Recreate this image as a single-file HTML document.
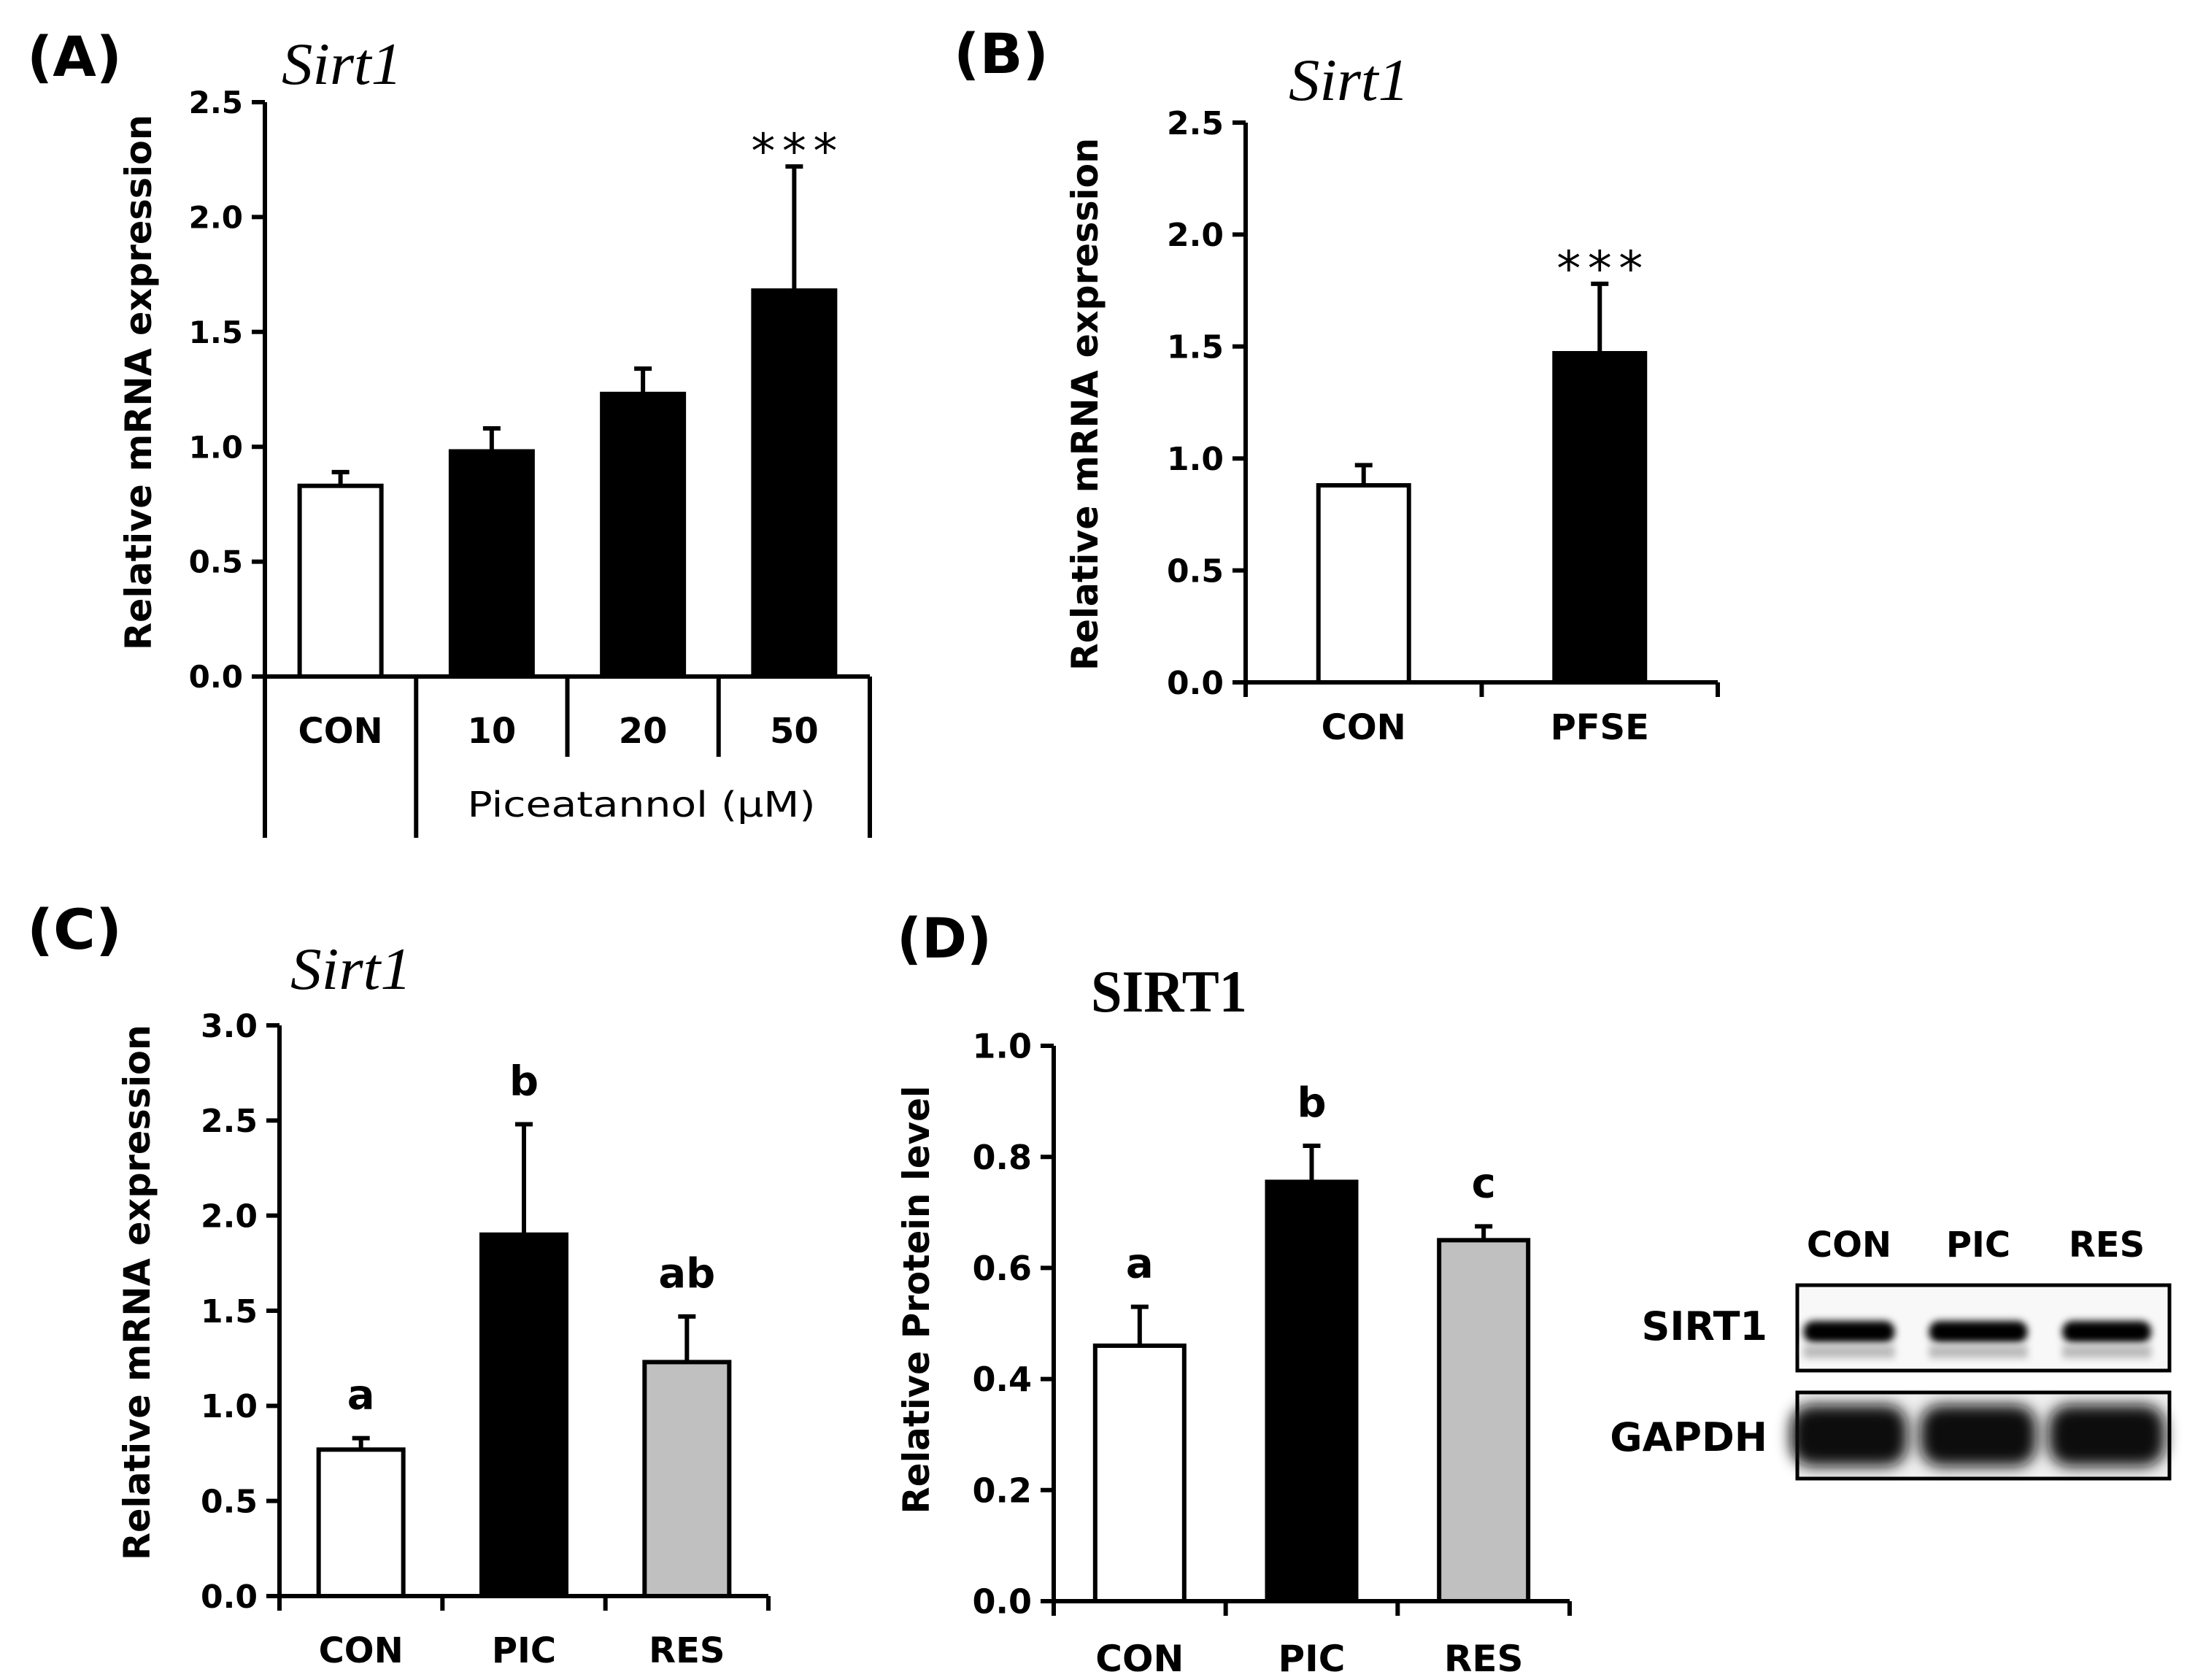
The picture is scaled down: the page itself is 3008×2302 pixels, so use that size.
<!DOCTYPE html>
<html><head><meta charset="utf-8">
<style>
html,body{margin:0;padding:0;background:#fff;}
svg{display:block;}
text{font-family:"DejaVu Sans","Liberation Sans",sans-serif;fill:#000;}
.serif{font-family:"Liberation Serif","DejaVu Serif",serif;}
</style></head>
<body>
<svg id="fig" width="3008" height="2302" viewBox="0 0 3008 2302" xmlns="http://www.w3.org/2000/svg">
<defs>
<filter id="blur1" x="-20%" y="-100%" width="140%" height="300%"><feGaussianBlur stdDeviation="5"/></filter>
<filter id="blur2" x="-20%" y="-50%" width="140%" height="200%"><feGaussianBlur stdDeviation="10"/></filter>
</defs>
</svg>
<script>
// ---- Panel A data ----
const aCategories = ["CON","10","20","50"];
const aValues = [0.83, 0.98, 1.23, 1.68];
const aErrors = [0.89, 1.08, 1.34, 2.22];
const aTicks = ["0.0","0.5","1.0","1.5","2.0","2.5"];
const aColors = ["#fff","#000","#000","#000"];
// ---- Panel B data ----
const bCategories = ["CON","PFSE"];
const bValues = [0.88, 1.47];
const bErrors = [0.97, 1.78];
const bTicks = ["0.0","0.5","1.0","1.5","2.0","2.5"];
const bColors = ["#fff","#000"];
// ---- Panel C data ----
const cCategories = ["CON","PIC","RES"];
const cValues = [0.77, 1.90, 1.23];
const cErrors = [0.83, 2.48, 1.47];
const cTicks = ["0.0","0.5","1.0","1.5","2.0","2.5","3.0"];
const cLetters = ["a","b","ab"];
const cColors = ["#fff","#000","#c0c0c0"];
// ---- Panel D data ----
const dCategories = ["CON","PIC","RES"];
const dValues = [0.46, 0.755, 0.65];
const dErrors = [0.53, 0.82, 0.675];
const dTicks = ["0.0","0.2","0.4","0.6","0.8","1.0"];
const dLetters = ["a","b","c"];
const dColors = ["#fff","#000","#c0c0c0"];

const NS = "http://www.w3.org/2000/svg";
const svg = document.getElementById("fig");
function el(tag, attrs, parent){
  const e = document.createElementNS(NS, tag);
  for (const k in attrs) e.setAttribute(k, attrs[k]);
  (parent||svg).appendChild(e);
  return e;
}
function txt(x,y,s,size,parent,extra,weight){
  const t = el("text",{x:x,y:y,"font-size":size,"text-anchor":"middle"},parent);
  if (extra) for (const k in extra) t.setAttribute(k, extra[k]);
  t.style.fontWeight = weight || "bold";
  t.textContent = s;
  return t;
}

function chart(cfg){
  const g = el("g",{});
  
  
  const ymax = cfg.ymax;
  const y = v => cfg.y0 - (v / ymax) * (cfg.y0 - cfg.ytop);
  const n = cfg.cats.length;
  const step = (cfg.xend - cfg.x0) / n;
  const xc = i => cfg.x0 + step * (i + 0.5);
  const ya = el("line",{x1:cfg.x0,y1:cfg.ytop,x2:cfg.x0,y2:cfg.y0,stroke:"#000","stroke-width":6},g);
  
  
  cfg.ticks.forEach((lab,i)=>{
    const v = ymax * i / (cfg.ticks.length-1);
    const tk = el("line",{x1:cfg.x0-18,y1:y(v),x2:cfg.x0,y2:y(v),stroke:"#000","stroke-width":6},g);
    
    
    const tl = txt(cfg.x0-30, y(v)+cfg.tickFs*0.36, lab, cfg.tickFs, g, {"text-anchor":"end"});
    
    
  });
  const xa = el("line",{x1:cfg.x0-18,y1:cfg.y0,x2:cfg.xend,y2:cfg.y0,stroke:"#000","stroke-width":6},g);
  
  
  for (let i=0;i<=n;i++){
    const xx = cfg.x0 + step*i;
    let bottom = cfg.y0 + 20;
    if (cfg.dividers) bottom = cfg.dividers[i];
    const d = el("line",{x1:xx,y1:cfg.y0,x2:xx,y2:bottom,stroke:"#000","stroke-width":6},g);
    
    
  }
  cfg.vals.forEach((v,i)=>{
    const bw = cfg.barW;
    const r = el("rect",{x:xc(i)-bw/2+3,y:y(v),width:bw-6,height:cfg.y0-y(v),fill:cfg.colors[i],stroke:"#000","stroke-width":6},g);
    
    
    const e1 = el("line",{x1:xc(i),y1:y(v),x2:xc(i),y2:y(cfg.errs[i]),stroke:"#000","stroke-width":6},g);
    
    
    const e2 = el("line",{x1:xc(i)-12,y1:y(cfg.errs[i]),x2:xc(i)+12,y2:y(cfg.errs[i]),stroke:"#000","stroke-width":6},g);
    
    
    if (cfg.letters){
      const L = txt(xc(i), y(cfg.errs[i]) - 40, cfg.letters[i], 56, g);
      
      
    }
    const cl = txt(xc(i), cfg.catY, cfg.cats[i], cfg.catFs, g);
    
    
  });
  if (cfg.star !== undefined){
    const i = cfg.star;
    const s = txt(xc(i), y(cfg.errs[i]) + 2, "***", 66, g, {textLength:118,lengthAdjust:"spacing"}, "normal");
    
    
  }
  const yt = txt(0,0,cfg.ytitle,cfg.ytFs,g,{transform:`translate(${cfg.ytX},${cfg.ytY}) rotate(-90)`,textLength:cfg.ytLen,lengthAdjust:"spacingAndGlyphs"});
  
  
  return {g, xc, y};
}

function plabel(x,y,s,name){
  const t = txt(x,y,s,76,svg,{"text-anchor":"start",textLength:130,lengthAdjust:"spacingAndGlyphs"});
  
  
}
plabel(37,104,"(A)","panel-label-a");
plabel(1307,100,"(B)","panel-label-b");
plabel(37,1300,"(C)","panel-label-c");
plabel(1229,1312,"(D)","panel-label-d");

function title(x,y,s,name,italic,len,fs){
  const t = txt(x,y,s,fs,svg,{"class":"serif","text-anchor":"start","font-style":italic?"italic":"normal",textLength:len,lengthAdjust:"spacingAndGlyphs"}, italic?"normal":"bold");
  
  
}
title(386,115,"Sirt1","title-a",true,165,82);
title(1766,137,"Sirt1","title-b",true,165,82);
title(398,1355,"Sirt1","title-c",true,166,82);
title(1495,1386,"SIRT1","title-d",false,214,82);

chart({name:"chart-a",cats:aCategories,vals:aValues,errs:aErrors,ticks:aTicks,colors:aColors,ymax:2.5,
  x0:363,xend:1192,y0:927,ytop:140,barW:118,tickFs:42,catFs:48,catY:1018,star:3,
  dividers:[1148,1148,1037,1037,1148],
  ytitle:"Relative mRNA expression",ytFs:50,ytX:207,ytY:524,ytLen:734});
const pic = txt(879,1119,"Piceatannol (\u03bcM)",48,svg,{textLength:477,lengthAdjust:"spacingAndGlyphs"},"normal");



chart({name:"chart-b",cats:bCategories,vals:bValues,errs:bErrors,ticks:bTicks,colors:bColors,ymax:2.5,
  x0:1707,xend:2354,y0:935,ytop:168,barW:130,tickFs:44,catFs:48,catY:1013,star:1,
  ytitle:"Relative mRNA expression",ytFs:50,ytX:1504,ytY:554,ytLen:730});

chart({name:"chart-c",cats:cCategories,vals:cValues,errs:cErrors,ticks:cTicks,colors:cColors,ymax:3.0,
  x0:383,xend:1053,y0:2187,ytop:1405,barW:122,tickFs:44,catFs:48,catY:2278,letters:cLetters,
  ytitle:"Relative mRNA expression",ytFs:50,ytX:205,ytY:1771,ytLen:734});

chart({name:"chart-d",cats:dCategories,vals:dValues,errs:dErrors,ticks:dTicks,colors:dColors,ymax:1.0,
  x0:1444,xend:2151,y0:2194,ytop:1433,barW:128,tickFs:46,catFs:50,catY:2290,letters:dLetters,
  ytitle:"Relative Protein level",ytFs:50,ytX:1273,ytY:1781,ytLen:587});

const blot = el("g",{});


const laneNames = ["CON","PIC","RES"];
const laneX = [2534,2711,2887];
const sirtW = [125,135,122];
const gapW = [160,160,160];
laneNames.forEach((n,i)=>{
  const t = txt(laneX[i],1722,n,48,blot);
  
  
});
const b1 = el("rect",{x:2463,y:1761,width:510,height:117,fill:"#f8f8f8",stroke:"#000","stroke-width":5},blot);


const b2 = el("rect",{x:2463,y:1908,width:510,height:118,fill:"#f0f0f0",stroke:"#000","stroke-width":5},blot);


laneNames.forEach((n,i)=>{
  const s = el("rect",{x:laneX[i]-sirtW[i]/2,y:1810,width:sirtW[i],height:30,rx:14,fill:"#000",filter:"url(#blur1)"},blot);
  
  
  const s2 = el("rect",{x:laneX[i]-sirtW[i]/2,y:1843,width:sirtW[i],height:18,fill:"#bbb",filter:"url(#blur1)"},blot);
  
  
  const g2 = el("rect",{x:laneX[i]-gapW[i]/2,y:1925,width:gapW[i],height:84,rx:30,fill:"#111",filter:"url(#blur2)"},blot);
  
  
});
const l1 = txt(2422,1836,"SIRT1",54,blot,{"text-anchor":"end"});


const l2 = txt(2422,1988,"GAPDH",54,blot,{"text-anchor":"end"});


</script>
</body></html>
